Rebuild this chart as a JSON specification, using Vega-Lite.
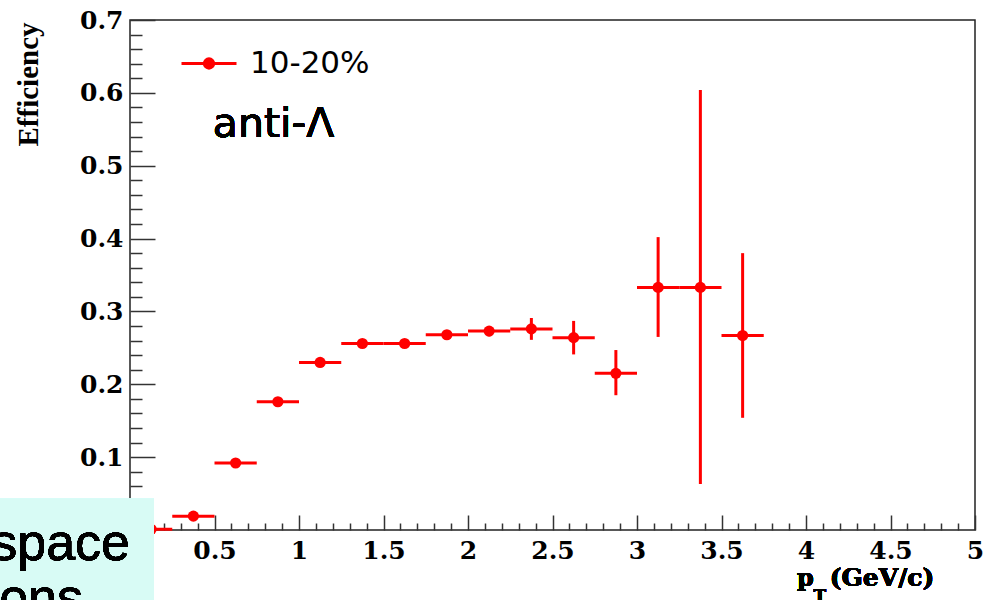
{
  "$schema": "https://vega.github.io/schema/vega-lite/v6.json",
  "width": 845,
  "height": 510,
  "autosize": {"type": "none"},
  "padding": {"left": 130, "top": 20, "right": 11, "bottom": 70},
  "background": "#ffffff",
  "config": {
    "view": {"stroke": "#222222", "strokeWidth": 1.5},
    "axis": {
      "domain": false,
      "grid": false,
      "tickColor": "#333333",
      "tickWidth": 1.5,
      "labelFont": "DejaVu Serif",
      "labelFontWeight": "bold",
      "labelFontSize": 25,
      "labelColor": "#000000",
      "labelOverlap": false,
      "labelFlush": false,
      "labelBound": false,
      "tickCount": 200
    }
  },
  "resolve": {"axis": {"x": "independent", "y": "independent"}},
  "data": {
    "values": [
      {"pt": 0.125, "pt_lo": 0.0, "pt_hi": 0.25, "eff": 0.001, "eff_lo": 0.0, "eff_hi": 0.002, "series": "10-20%"},
      {"pt": 0.375, "pt_lo": 0.25, "pt_hi": 0.5, "eff": 0.019, "eff_lo": 0.017, "eff_hi": 0.021, "series": "10-20%"},
      {"pt": 0.625, "pt_lo": 0.5, "pt_hi": 0.75, "eff": 0.092, "eff_lo": 0.089, "eff_hi": 0.095, "series": "10-20%"},
      {"pt": 0.875, "pt_lo": 0.75, "pt_hi": 1.0, "eff": 0.176, "eff_lo": 0.172, "eff_hi": 0.18, "series": "10-20%"},
      {"pt": 1.125, "pt_lo": 1.0, "pt_hi": 1.25, "eff": 0.23, "eff_lo": 0.226, "eff_hi": 0.234, "series": "10-20%"},
      {"pt": 1.375, "pt_lo": 1.25, "pt_hi": 1.5, "eff": 0.256, "eff_lo": 0.252, "eff_hi": 0.26, "series": "10-20%"},
      {"pt": 1.625, "pt_lo": 1.5, "pt_hi": 1.75, "eff": 0.256, "eff_lo": 0.251, "eff_hi": 0.261, "series": "10-20%"},
      {"pt": 1.875, "pt_lo": 1.75, "pt_hi": 2.0, "eff": 0.268, "eff_lo": 0.262, "eff_hi": 0.274, "series": "10-20%"},
      {"pt": 2.125, "pt_lo": 2.0, "pt_hi": 2.25, "eff": 0.273, "eff_lo": 0.266, "eff_hi": 0.28, "series": "10-20%"},
      {"pt": 2.375, "pt_lo": 2.25, "pt_hi": 2.5, "eff": 0.276, "eff_lo": 0.261, "eff_hi": 0.291, "series": "10-20%"},
      {"pt": 2.625, "pt_lo": 2.5, "pt_hi": 2.75, "eff": 0.264, "eff_lo": 0.241, "eff_hi": 0.287, "series": "10-20%"},
      {"pt": 2.875, "pt_lo": 2.75, "pt_hi": 3.0, "eff": 0.215, "eff_lo": 0.185, "eff_hi": 0.247, "series": "10-20%"},
      {"pt": 3.125, "pt_lo": 3.0, "pt_hi": 3.25, "eff": 0.333, "eff_lo": 0.265, "eff_hi": 0.402, "series": "10-20%"},
      {"pt": 3.375, "pt_lo": 3.25, "pt_hi": 3.5, "eff": 0.333, "eff_lo": 0.063, "eff_hi": 0.604, "series": "10-20%"},
      {"pt": 3.625, "pt_lo": 3.5, "pt_hi": 3.75, "eff": 0.267, "eff_lo": 0.154, "eff_hi": 0.38, "series": "10-20%"}
    ]
  },
  "layer": [
    {
      "mark": {"type": "rule", "color": "#ff0000", "strokeWidth": 3},
      "encoding": {
        "x": {
          "field": "pt_lo", "type": "quantitative",
          "scale": {"domain": [0, 5], "nice": false, "zero": false},
          "axis": {
            "orient": "bottom",
            "values": [0.5, 1, 1.5, 2, 2.5, 3, 3.5, 4, 4.5, 5],
            "tickSize": -15,
            "format": "~g",
            "labelPadding": 23,
            "labelBaseline": "top",
            "title": null
          }
        },
        "x2": {"field": "pt_hi"},
        "y": {
          "field": "eff", "type": "quantitative",
          "scale": {"domain": [0, 0.7], "nice": false, "zero": false},
          "axis": {
            "orient": "left",
            "values": [0.1, 0.2, 0.3, 0.4, 0.5, 0.6, 0.7],
            "tickSize": -25,
            "format": ".1f",
            "labelPadding": 32,
            "title": "Efficiency",
            "titleFont": "Liberation Serif",
            "titleFontWeight": "bold",
            "titleFontSize": 29,
            "titleColor": "#000000",
            "titleAngle": -90,
            "titleX": -93,
            "titleY": 2,
            "titleAlign": "right",
            "titleBaseline": "alphabetic"
          }
        }
      }
    },
    {
      "mark": {"type": "rule", "color": "#ff0000", "strokeWidth": 3},
      "encoding": {
        "x": {
          "field": "pt", "type": "quantitative",
          "axis": {
            "orient": "bottom",
            "values": [0.1,0.2,0.3,0.4,0.6,0.7,0.8,0.9,1.1,1.2,1.3,1.4,1.6,1.7,1.8,1.9,2.1,2.2,2.3,2.4,2.6,2.7,2.8,2.9,3.1,3.2,3.3,3.4,3.6,3.7,3.8,3.9,4.1,4.2,4.3,4.4,4.6,4.7,4.8,4.9],
            "tickSize": -7,
            "labels": false,
            "title": null
          }
        },
        "y": {
          "field": "eff_lo", "type": "quantitative",
          "axis": {
            "orient": "left",
            "values": [0.02,0.04,0.06,0.08,0.12,0.14,0.16,0.18,0.22,0.24,0.26,0.28,0.32,0.34,0.36,0.38,0.42,0.44,0.46,0.48,0.52,0.54,0.56,0.58,0.62,0.64,0.66,0.68],
            "tickSize": -12,
            "labels": false,
            "title": null
          }
        },
        "y2": {"field": "eff_hi"}
      }
    },
    {
      "mark": {"type": "point", "filled": true, "shape": "circle", "size": 125, "opacity": 1},
      "encoding": {
        "x": {"field": "pt", "type": "quantitative", "axis": null},
        "y": {"field": "eff", "type": "quantitative", "axis": null},
        "color": {
          "field": "series", "type": "nominal",
          "scale": {"domain": ["10-20%"], "range": ["#ff0000"]},
          "legend": {
            "orient": "none",
            "legendX": 50,
            "legendY": 14.5,
            "title": null,
            "padding": 0,
            "symbolType": "M-1,0H1M0.17,0A0.17,0.17,0,1,1,-0.17,0A0.17,0.17,0,1,1,0.17,0",
            "symbolSize": 3025,
            "symbolStrokeColor": "#ff0000",
            "symbolStrokeWidth": 3,
            "symbolFillColor": "#ff0000",
            "labelFont": "DejaVu Sans",
            "labelFontSize": 31,
            "labelColor": "#000000",
            "labelOffset": 12
          }
        }
      }
    },
    {
      "mark": {"type": "text", "text": "anti-Λ", "font": "DejaVu Sans", "fontSize": 41, "align": "left", "baseline": "alphabetic", "color": "#000000"},
      "encoding": {"x": {"datum": 0.49, "axis": null}, "y": {"datum": 0.539, "axis": null}}
    },
    {
      "mark": {"type": "rect", "color": "#d8fbf5", "opacity": 1},
      "encoding": {"x": {"datum": -0.78, "axis": null}, "x2": {"datum": 0.142}, "y": {"datum": 0.043, "axis": null}, "y2": {"datum": -0.12}}
    },
    {
      "mark": {"type": "text", "text": "space", "font": "Liberation Sans", "fontSize": 52, "align": "right", "baseline": "alphabetic", "color": "#000000"},
      "encoding": {"x": {"datum": 0.0, "axis": null}, "y": {"datum": -0.041, "axis": null}}
    },
    {
      "mark": {"type": "text", "text": "ions", "font": "Liberation Sans", "fontSize": 52, "align": "right", "baseline": "alphabetic", "color": "#000000"},
      "encoding": {"x": {"datum": -0.278, "axis": null}, "y": {"datum": -0.117, "axis": null}}
    },
    {
      "mark": {"type": "text", "text": "p", "font": "DejaVu Serif", "fontWeight": "bold", "fontSize": 24, "align": "left", "baseline": "alphabetic", "color": "#000000"},
      "encoding": {"x": {"datum": 3.947, "axis": null}, "y": {"datum": -0.0765, "axis": null}}
    },
    {
      "mark": {"type": "text", "text": "T", "font": "DejaVu Serif", "fontWeight": "bold", "fontSize": 17, "align": "left", "baseline": "alphabetic", "color": "#000000"},
      "encoding": {"x": {"datum": 4.045, "axis": null}, "y": {"datum": -0.0975, "axis": null}}
    },
    {
      "mark": {"type": "text", "text": "(GeV/c)", "font": "DejaVu Serif", "fontWeight": "bold", "fontSize": 25, "align": "left", "baseline": "alphabetic", "color": "#000000"},
      "encoding": {"x": {"datum": 4.14, "axis": null}, "y": {"datum": -0.0765, "axis": null}}
    }
  ]
}
